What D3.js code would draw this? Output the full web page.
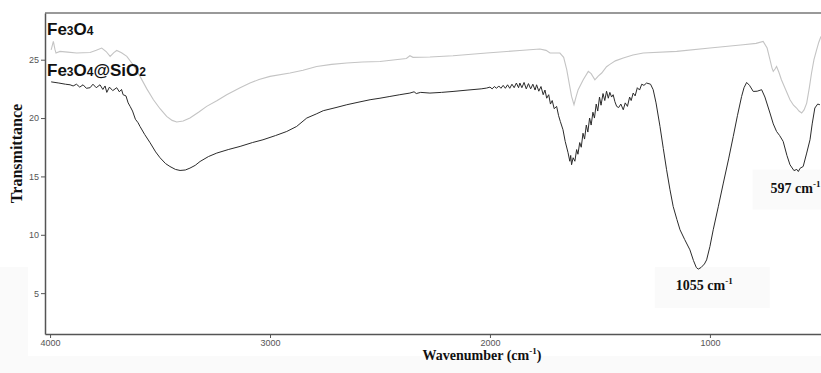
<!DOCTYPE html>
<html>
<head>
<meta charset="utf-8">
<script src="https://cdn.jsdelivr.net/npm/d3@7"></script>
<style>
  body { margin: 0; background: #fff; }
  svg { display: block; }
</style>
</head>
<body>
<svg id="chart"></svg>
<script>
// FT-IR spectra, [wavenumber cm-1, transmittance]
const fe3o4 = [
  [3995,25.85],[3990,26.2],[3985,26.57],[3978,25.9],[3973,25.57],[3955,25.71],[3920,25.65],[3879,25.57],
  [3850,25.6],[3818,25.62],[3790,25.8],[3765,26.0],[3745,25.7],[3727,25.28],[3710,25.6],[3697,25.79],
  [3675,25.6],[3651,25.28],[3620,24.5],[3591,23.57],[3560,22.5],[3530,21.57],[3500,20.8],[3470,20.14],
  [3445,19.8],[3424,19.66],[3395,19.75],[3364,20.0],[3325,20.5],[3288,21.0],[3240,21.5],[3197,22.0],
  [3136,22.6],[3091,23.0],[3050,23.3],[3000,23.57],[2909,23.86],[2850,24.1],[2788,24.42],[2720,24.6],
  [2651,24.71],[2580,24.8],[2500,24.85],[2430,25.0],[2380,25.1],[2364,25.34],[2350,25.2],[2273,25.23],
  [2168,25.34],[2015,25.57],[1864,25.79],[1773,25.91],[1745,25.8],[1727,25.57],[1682,25.57],[1665,25.2],
  [1651,24.14],[1640,23.0],[1629,21.85],[1618,21.14],[1609,21.8],[1599,22.43],[1576,23.28],[1553,24.0],
  [1540,23.8],[1523,23.28],[1508,23.6],[1492,23.86],[1470,24.4],[1455,24.6],[1430,24.9],[1394,25.14],
  [1350,25.4],[1303,25.57],[1151,25.71],[1000,26.0],[849,26.28],[790,26.4],[758,26.57],[740,26.0],
  [727,25.0],[718,24.3],[712,24.0],[704,24.2],[697,24.42],[686,23.9],[675,23.28],[655,22.4],[636,21.57],
  [620,21.1],[606,20.86],[595,20.6],[583,20.43],[572,20.7],[560,21.28],[548,22.6],[538,23.86],[527,25.0],
  [515,25.85],[505,26.5],[495,27.0]
];

const fe3o4Sio2 = [
  [3995,23.1],[3960,23.0],[3930,22.9],[3909,22.85],[3895,22.75],[3880,22.9],[3865,22.65],[3850,22.85],
  [3835,22.55],[3818,22.6],[3805,22.9],[3790,22.6],[3773,22.85],[3760,22.45],[3750,22.75],[3742,22.2],
  [3730,22.65],[3715,22.35],[3697,22.6],[3685,22.25],[3675,22.45],[3668,22.0],[3655,21.9],[3645,21.3],
  [3636,21.0],[3625,20.6],[3612,19.9],[3600,19.6],[3591,19.28],[3570,18.6],[3545,17.88],[3520,17.1],
  [3500,16.6],[3475,16.1],[3455,15.85],[3430,15.6],[3409,15.51],[3385,15.55],[3364,15.71],[3340,15.95],
  [3318,16.28],[3280,16.7],[3242,17.0],[3190,17.3],[3136,17.57],[3080,17.9],[3032,18.14],[2975,18.5],
  [2924,18.85],[2879,19.28],[2833,20.0],[2790,20.35],[2758,20.63],[2700,20.9],[2651,21.14],[2600,21.35],
  [2545,21.57],[2500,21.7],[2455,21.85],[2410,22.0],[2364,22.14],[2345,22.25],[2335,22.1],[2315,22.2],
  [2273,22.14],[2220,22.2],[2168,22.28],[2100,22.4],[2040,22.5],[2015,22.57],[2000,22.65],[1990,22.5],
  [1980,22.7],[1970,22.55],[1960,22.75],[1950,22.55],[1940,22.8],[1930,22.55],[1920,22.85],[1910,22.55],
  [1900,22.9],[1890,22.6],[1880,23.0],[1870,22.6],[1864,23.0],[1855,22.6],[1845,23.05],[1835,22.5],
  [1825,22.95],[1815,22.5],[1805,22.9],[1795,22.4],[1788,22.85],[1778,22.3],[1768,22.7],[1758,22.0],
  [1750,22.4],[1742,21.7],[1733,22.0],[1725,21.2],[1717,21.5],[1708,20.8],[1697,21.0],[1688,20.2],
  [1680,19.7],[1668,19.0],[1658,18.0],[1645,17.03],[1637,16.3],[1633,16.8],[1629,16.0],[1622,16.6],
  [1614,16.3],[1606,17.3],[1600,16.9],[1592,17.9],[1585,17.5],[1577,18.7],[1570,18.2],[1562,19.4],
  [1555,18.8],[1547,20.0],[1540,19.4],[1532,20.5],[1525,20.0],[1517,21.2],[1510,20.6],[1502,21.8],
  [1495,21.1],[1486,22.1],[1478,21.5],[1470,22.3],[1462,21.7],[1455,22.2],[1447,21.8],[1440,22.0],
  [1432,21.4],[1424,21.0],[1415,20.9],[1405,21.2],[1394,20.71],[1385,21.3],[1375,21.0],[1365,21.8],
  [1358,21.5],[1349,22.14],[1340,21.9],[1330,22.6],[1320,22.4],[1310,22.9],[1300,22.8],[1288,23.0],
  [1270,22.9],[1258,22.43],[1245,21.3],[1227,19.28],[1212,17.4],[1197,15.57],[1182,13.9],[1167,12.42],
  [1150,11.3],[1136,10.43],[1115,9.6],[1091,8.71],[1075,7.8],[1062,7.2],[1053,7.06],[1040,7.2],
  [1025,7.5],[1015,7.85],[1000,9.0],[985,10.43],[962,12.4],[939,14.43],[915,16.5],[894,18.42],
  [875,20.2],[856,21.85],[845,22.6],[833,23.05],[820,22.8],[803,22.28],[785,22.3],[765,22.43],
  [750,21.8],[727,20.43],[712,19.5],[697,18.85],[683,18.5],[667,18.0],[650,16.8],[636,16.0],
  [618,15.5],[605,15.6],[598,15.42],[590,15.7],[576,15.85],[560,17.0],[545,18.14],[535,19.5],
  [523,20.86],[510,21.2],[500,21.14]
];

const xTicks = [4000, 3000, 2000, 1000];
const yTicks = [5, 10, 15, 20, 25];
const peakLabels = [
  {wn: 1055, t: 7.06, text: '1055'},
  {wn: 597, t: 15.42, text: '597'}
];

const WIDTH = 821;
const HEIGHT = 373;
const margin = {top: 13, right: 0, bottom: 39, left: 45};

const svg = d3.select('#chart')
  .attr('width', WIDTH)
  .attr('height', HEIGHT);

// faint grey scan background around the bottom-left
svg.append('path')
  .attr('d', `M0,${HEIGHT} L0,267 L28,267 L28,356 L${WIDTH},356 L${WIDTH},${HEIGHT} Z`)
  .attr('fill', '#fafafa');

const x = d3.scaleLinear()
  .domain([4023, 495])
  .range([margin.left, WIDTH - margin.right]);

const y = d3.scaleLinear()
  .domain([1.5, 29])
  .range([HEIGHT - margin.bottom, margin.top]);

// faint boxes behind the peak labels
svg.append('rect')
  .attr('x', x(1055) - 43).attr('y', y(7.06) - 2)
  .attr('width', 115).attr('height', 41)
  .attr('fill', '#fafafa');
svg.append('rect')
  .attr('x', x(597) - 46).attr('y', y(15.42) - 2)
  .attr('width', 70).attr('height', 40)
  .attr('fill', '#fafafa');

svg.append('clipPath')
  .attr('id', 'plot-clip')
  .append('rect')
  .attr('x', margin.left)
  .attr('y', margin.top)
  .attr('width', WIDTH - margin.left - margin.right)
  .attr('height', HEIGHT - margin.top - margin.bottom);

// top frame line
svg.append('line')
  .attr('x1', x.range()[0]).attr('x2', x.range()[1])
  .attr('y1', y.range()[1]).attr('y2', y.range()[1])
  .attr('stroke', '#777')
  .attr('stroke-width', 1.5);

const line = d3.line()
  .x(d => x(d[0]))
  .y(d => y(d[1]));

svg.append('path')
  .datum(fe3o4)
  .attr('clip-path', 'url(#plot-clip)')
  .attr('fill', 'none')
  .attr('stroke', '#c4c4c4')
  .attr('stroke-width', 1.1)
  .attr('d', line);

svg.append('path')
  .datum(fe3o4Sio2)
  .attr('clip-path', 'url(#plot-clip)')
  .attr('fill', 'none')
  .attr('stroke', '#2b2b2b')
  .attr('stroke-width', 1)
  .attr('d', line);

// axes
const xAxis = svg.append('g')
  .attr('transform', `translate(0,${y.range()[0]})`)
  .call(d3.axisBottom(x).tickValues(xTicks).tickFormat(d3.format('d'))
    .tickSize(4).tickSizeOuter(0).tickPadding(2));

const yAxis = svg.append('g')
  .attr('transform', `translate(${x.range()[0]},0)`)
  .call(d3.axisLeft(y).tickValues(yTicks).tickFormat(d3.format('d'))
    .tickSize(4).tickSizeOuter(0).tickPadding(2));

[xAxis, yAxis].forEach(g => {
  g.select('.domain').attr('stroke', '#555').attr('stroke-width', 1.5);
  g.selectAll('.tick line').attr('stroke', '#555');
  g.selectAll('.tick text')
    .attr('fill', '#555')
    .style('font-family', '"Liberation Sans", Arial, sans-serif')
    .style('font-size', '9px');
});

// axis titles
svg.append('text')
  .attr('transform', `translate(22,${(y.range()[0] + y.range()[1]) / 2 - 20}) rotate(-90)`)
  .attr('text-anchor', 'middle')
  .style('font-family', '"Liberation Serif", "Times New Roman", serif')
  .style('font-weight', 'bold')
  .style('font-size', '16px')
  .attr('fill', '#111')
  .text('Transmittance');

const xTitle = svg.append('text')
  .attr('x', 482)
  .attr('y', 360)
  .attr('text-anchor', 'middle')
  .style('font-family', '"Liberation Serif", "Times New Roman", serif')
  .style('font-weight', 'bold')
  .style('font-size', '14px')
  .attr('fill', '#111');
xTitle.append('tspan').text('Wavenumber (cm');
xTitle.append('tspan').attr('dy', -6).style('font-size', '9px').text('-1');
xTitle.append('tspan').attr('dy', 6).text(')');

// series labels
function formulaLabel(parts, yPos) {
  const t = svg.append('text')
    .attr('x', 47)
    .attr('y', yPos)
    .style('font-family', '"Liberation Sans", Arial, sans-serif')
    .style('font-weight', 'bold')
    .style('font-size', '17px')
    .attr('fill', '#111');
  parts.forEach(p => {
    t.append('tspan')
      .style('font-size', /\d/.test(p) ? '12px' : '17px')
      .text(p);
  });
}
formulaLabel(['Fe', '3', 'O', '4'], 35);
formulaLabel(['Fe', '3', 'O', '4', '@SiO', '2'], 76);

// peak annotations
const offsets = {1055: {dx: -22, dy: 21}, 597: {dx: -28, dy: 21}};
peakLabels.forEach(p => {
  const t = svg.append('text')
    .attr('x', x(p.wn) + offsets[p.wn].dx)
    .attr('y', y(p.t) + offsets[p.wn].dy)
    .style('font-family', '"Liberation Serif", "Times New Roman", serif')
    .style('font-weight', 'bold')
    .style('font-size', '14px')
    .attr('fill', '#111');
  t.append('tspan').text(p.text + ' cm');
  t.append('tspan').attr('dy', -6).style('font-size', '9px').text('-1');
});
</script>
</body>
</html>
